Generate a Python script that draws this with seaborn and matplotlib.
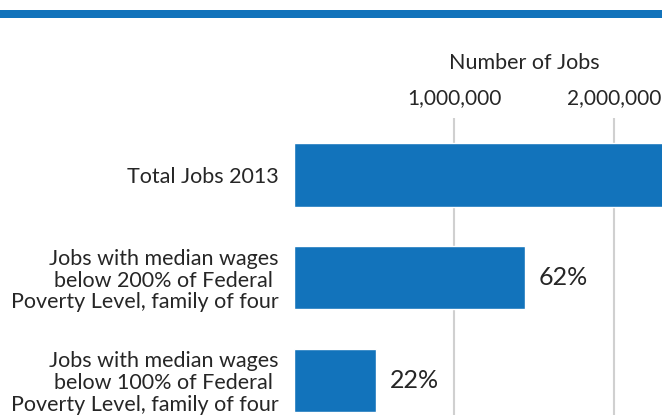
import matplotlib
matplotlib.use("Agg")
import matplotlib.pyplot as plt
import seaborn as sns
import pandas as pd

# Job counts and shares of the total
categories = [
    "Total Jobs 2013",
    "Jobs with median wages\nbelow 200% of Federal \nPoverty Level, family of four",
    "Jobs with median wages\nbelow 100% of Federal \nPoverty Level, family of four",
]
total_jobs = 2_330_000
shares = [1.00, 0.62, 0.22]
share_labels = ["", "62%", "22%"]
tick_values = [1_000_000, 2_000_000]
tick_labels = ["1,000,000", "2,000,000"]

jobs = [total_jobs * s for s in shares]
df = pd.DataFrame({"category": categories, "jobs": jobs})

sns.set_theme(style="white")
plt.rcParams["font.family"] = ["Lato", "DejaVu Sans"]

BLUE = "#1273bb"
TEXT = "#262626"

fig = plt.figure(figsize=(6.62, 4.15), dpi=100)
fig.patch.set_facecolor("white")

# header band across the top
fig.add_artist(plt.Rectangle((0, 1 - 18.5 / 415), 1, 8 / 415,
                             transform=fig.transFigure, color=BLUE, lw=0))

ax = fig.add_axes([294 / 662, 0, 1 - 294 / 662, 1 - 118 / 415])
sns.barplot(data=df, x="jobs", y="category", orient="h", color=BLUE,
            saturation=1, width=0.615, ax=ax)

ax.set_xlim(0, 2_300_000)
ax.set_ylim(2.34, -0.556)
ax.set_xlabel("")
ax.set_ylabel("")
ax.xaxis.tick_top()
ax.set_xticks(tick_values)
ax.set_xticklabels(tick_labels, fontsize=15, color=TEXT)
ax.tick_params(axis="x", length=0, pad=7)
ax.tick_params(axis="y", length=0, pad=11)
for lbl in ax.get_yticklabels():
    lbl.set_fontsize(15.5)
    lbl.set_color(TEXT)
    lbl.set_linespacing(1.12)
    lbl.set_horizontalalignment("right")

ax.grid(axis="x", color="#d0d0d0", linewidth=1.5)
ax.set_axisbelow(True)
for s in ax.spines.values():
    s.set_visible(False)

ax.bar_label(ax.containers[0], labels=share_labels, padding=10,
             fontsize=18, color=TEXT)

fig.text(524 / 662, 1 - 63 / 415, "Number of Jobs", ha="center", va="center",
         fontsize=15.5, color=TEXT)

fig.savefig("out.png", dpi=100, facecolor="white")
